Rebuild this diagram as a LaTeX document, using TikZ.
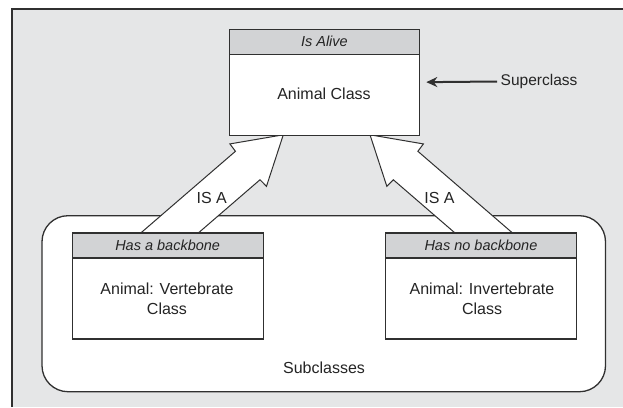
\documentclass[tikz,border=0pt]{standalone}
\usepackage{fontspec}
\setmainfont{Liberation Sans}
\usetikzlibrary{arrows.meta}
\definecolor{bg}{HTML}{E5E6E7}
\definecolor{hdr}{HTML}{D2D3D5}
\definecolor{ln}{HTML}{303030}
\definecolor{tx}{HTML}{242424}
\tikzset{
  body/.style={draw=ln, line width=1.3pt, fill=white, rectangle, inner sep=0pt, anchor=north west},
  head/.style={draw=ln, line width=1.3pt, fill=hdr, rectangle, inner sep=0pt, anchor=north west,
    text=tx, font=\fontsize{14.5}{17}\selectfont\itshape},
  lbl/.style={text=tx, font=\fontsize{16}{20}\selectfont, align=center, inner sep=0pt},
  isa/.style={draw=ln, line width=1pt, fill=white, line join=miter},
  group/.style={draw=ln, line width=1.3pt, fill=white, rounded corners=26pt}
}
\begin{document}
\begin{tikzpicture}[x=1pt,y=-1pt]
\useasboundingbox (0,0) rectangle (623,407);
\fill[bg] (11,8) rectangle (623,407);
\draw[ln, line width=1.6pt] (11.8,407) -- (11.8,8.8) -- (623,8.8);

% subclasses group
\draw[group] (42,215.7) rectangle (605.5,391.7);
\node[lbl] (subs) at (324,368) {Subclasses};

% IS A block arrows
\coordinate (tipL) at (283.3,134.8);
\coordinate (tipR) at (370,134.8);
\begin{scope}[shift={(tipL)}, rotate=40.8]
  \draw[isa] (0,0) -- (-46.4,28) -- (-47,18.8) -- (-175,18.8) -- (-175,-18.8) -- (-47,-18.8) -- (-46.4,-28) -- cycle;
\end{scope}
\begin{scope}[shift={(tipR)}, rotate=139.2]
  \draw[isa] (0,0) -- (-46.4,28) -- (-47,18.8) -- (-175,18.8) -- (-175,-18.8) -- (-47,-18.8) -- (-46.4,-28) -- cycle;
\end{scope}
\node[lbl] (isaL) at (211.7,197.5) {IS A};
\node[lbl] (isaR) at (439.5,197.5) {IS A};

% superclass box
\node[body, minimum width=190.5pt, minimum height=106pt] (top) at (228.5,28.5) {};
\node[head, minimum width=190.5pt, minimum height=25pt] (tophead) at (top.north west) {Is Alive};
\node[lbl] (topt) at (324,94) {Animal Class};

% left subclass
\node[body, minimum width=191pt, minimum height=106pt] (vert) at (71.5,232.3) {};
\node[head, minimum width=191pt, minimum height=25pt] (verthead) at (vert.north west) {Has a backbone};
\node[lbl] (vertt) at (167,298.3) {Animal: Vertebrate\\Class};

% right subclass
\node[body, minimum width=191.4pt, minimum height=106pt] (invt) at (384.6,232.3) {};
\node[head, minimum width=191.4pt, minimum height=25pt] (invthead) at (invt.north west) {Has no backbone};
\node[lbl] (invtt) at (482,298.3) {Animal: Invertebrate\\Class};

% superclass pointer
\node[lbl, anchor=west, font=\fontsize{15.5}{18}\selectfont] (sup) at (500.5,81.5) {Superclass};
\draw[ln, line width=2pt, -{Stealth[length=11pt,width=10pt]}] ([xshift=-3.5pt]sup.west) -- ([xshift=6pt]top.east);
\end{tikzpicture}
\end{document}
